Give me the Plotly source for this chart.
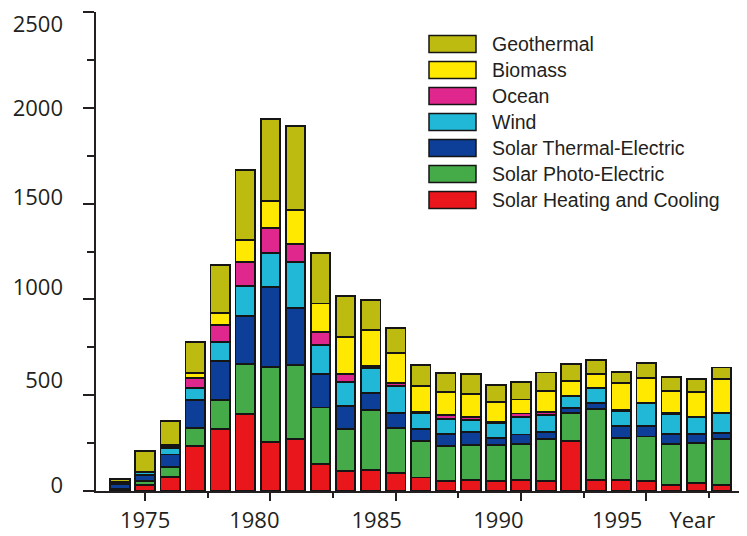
import plotly.graph_objects as go

years = list(range(1974, 1999))

solar_heating_cooling = [5, 31, 75, 236, 322, 402, 254, 271, 140, 104, 110, 96, 70, 54, 57, 54, 57, 54, 263, 57, 57, 52, 31, 43, 31]
solar_photo_electric = [5, 23, 52, 91, 153, 259, 395, 387, 296, 218, 313, 234, 193, 181, 183, 186, 188, 216, 143, 369, 218, 232, 214, 206, 239]
solar_thermal_electric = [25, 31, 64, 148, 203, 252, 417, 296, 174, 123, 87, 79, 59, 62, 66, 35, 50, 40, 26, 32, 64, 55, 51, 48, 34]
wind = [0, 12, 32, 61, 101, 157, 178, 240, 150, 122, 130, 139, 87, 77, 65, 82, 93, 87, 64, 78, 80, 119, 105, 88, 102]
ocean = [0, 0, 12, 52, 87, 124, 127, 94, 69, 42, 14, 14, 5, 23, 17, 5, 17, 17, 0, 0, 4, 0, 5, 0, 0]
biomass = [12, 5, 5, 29, 61, 116, 144, 179, 150, 196, 186, 160, 136, 118, 117, 101, 73, 109, 80, 73, 139, 133, 117, 133, 177]
geothermal = [15, 108, 127, 159, 254, 365, 428, 438, 264, 214, 157, 127, 109, 99, 104, 90, 92, 95, 87, 75, 61, 79, 70, 67, 62]

series_names = ["Solar Heating and Cooling", "Solar Photo-Electric", "Solar Thermal-Electric",
                "Wind", "Ocean", "Biomass", "Geothermal"]
series_values = [solar_heating_cooling, solar_photo_electric, solar_thermal_electric,
                 wind, ocean, biomass, geothermal]
series_colors = ["#e9161b", "#45aa48", "#0d3e98", "#20b8d6", "#e0278e", "#ffe900", "#bdbb0f"]

y_tick_labels = ["0", "500", "1000", "1500", "2000", "2500"]
y_label_pos = [31, 579, 1065, 1534, 1999, 2438]
x_tick_labels = ["1975", "1980", "1985", "1990", "1995", "Year"]
x_label_pos = [1975, 1979.36, 1984.24, 1989.1, 1993.84, 1996.84]

INK = "#231f20"
XR = [1973.04, 1998.94]
YR = [0, 2500]

fig = go.Figure()
for name, vals, col in zip(series_names, series_values, series_colors):
    fig.add_trace(go.Bar(x=years, y=vals, name=name, marker_color=col,
                         marker_line=dict(color="#151515", width=1.8),
                         width=0.78, showlegend=False))

# page offset of the figure (browser body margin)
OFF = 8
W, H = 747 - OFF, 536 - OFF
# plot area in page pixels: x 96..745, y 12..491
ml, mt = 96 - OFF, 12 - OFF
mr = W - (745 - OFF)
mb = H - (491 - OFF)
PX0, PX1, PY0, PY1 = 96, 745, 12, 491

def px_x(x):
    return (x - PX0) / (PX1 - PX0)

def px_y(y):
    return (PY1 - y) / (PY1 - PY0)

shapes = []
annotations = []
for i, (name, col) in enumerate(zip(series_names[::-1], series_colors[::-1])):
    cy = 44 + 26 * i
    shapes.append(dict(type="rect", xref="paper", yref="paper",
                       x0=px_x(429), x1=px_x(476), y0=px_y(cy + 8.5), y1=px_y(cy - 8.5),
                       fillcolor=col, line=dict(color="#151515", width=1.5)))
    annotations.append(dict(xref="paper", yref="paper", x=px_x(490), y=px_y(cy),
                            text=name, showarrow=False, xanchor="left", yanchor="middle",
                            font=dict(family="Liberation Sans, Arial, sans-serif", size=19.5, color=INK)))

# right frame line
shapes.append(dict(type="line", xref="paper", yref="paper", x0=1, x1=1, y0=0, y1=px_y(OFF),
                   line=dict(color=INK, width=1.5)))

tickfont = dict(family="Open Sans, sans-serif", size=22, color=INK)

fig.update_layout(
    width=W, height=H,
    margin=dict(l=ml, r=mr, t=mt, b=mb, autoexpand=False),
    barmode="stack",
    plot_bgcolor="white", paper_bgcolor="white",
    shapes=shapes, annotations=annotations,
    xaxis=dict(range=XR, showgrid=False, zeroline=False, showline=True, linecolor=INK, linewidth=2,
               ticks="outside", tick0=1975, dtick=5, ticklen=8, tickwidth=1.5, tickcolor=INK,
               showticklabels=False,
               minor=dict(dtick=2.5, ticks="outside", ticklen=5, tickwidth=1.5, tickcolor=INK)),
    yaxis=dict(range=YR, showgrid=False, zeroline=False, showline=True, linecolor=INK, linewidth=2,
               ticks="outside", tick0=0, dtick=500, ticklen=11, tickwidth=1.5, tickcolor=INK,
               showticklabels=False,
               minor=dict(dtick=250, ticks="outside", ticklen=7, tickwidth=1.5, tickcolor=INK)),
    xaxis2=dict(range=XR, overlaying="x", side="bottom", anchor="y", showgrid=False, zeroline=False,
                showline=False, ticks="", tickvals=x_label_pos, ticktext=x_tick_labels,
                tickfont=tickfont, ticklabelstandoff=14, ticklabeloverflow="allow"),
    yaxis2=dict(range=YR, overlaying="y", side="left", anchor="x", showgrid=False, zeroline=False,
                showline=False, ticks="", tickvals=y_label_pos, ticktext=y_tick_labels,
                tickfont=tickfont, ticklabelstandoff=32, ticklabeloverflow="allow"),
)
# invisible helper trace to activate the label axes
fig.add_trace(go.Scatter(x=[XR[0]], y=[0], xaxis="x2", yaxis="y2", mode="markers",
                         marker=dict(opacity=0), showlegend=False, hoverinfo="skip"))

fig.write_html("out.html")
